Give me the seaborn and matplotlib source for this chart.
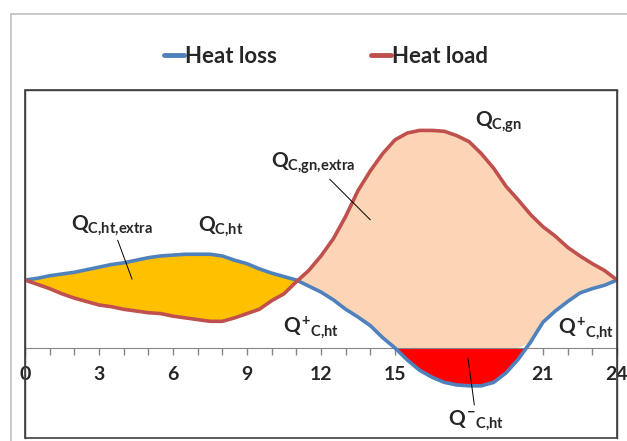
import numpy as np
import pandas as pd
import seaborn as sns
import matplotlib.pyplot as plt
from matplotlib.patches import Rectangle
from matplotlib.ticker import MultipleLocator

hours = [0, 0.5, 1, 1.5, 2, 2.5, 3, 3.5, 4, 4.5, 5, 5.5, 6, 6.5, 7, 7.5, 8, 8.5, 9, 9.5,
         10, 10.5, 11, 11.5, 12, 12.5, 13, 13.5, 14, 14.5, 15, 15.5, 16, 16.5, 17, 17.5,
         18, 18.5, 19, 19.5, 20, 20.5, 21, 21.5, 22, 22.5, 23, 23.5, 24]
heat_loss = [0.79, 0.81, 0.84, 0.86, 0.88, 0.91, 0.94, 0.97, 0.99, 1.02, 1.05, 1.07,
             1.08, 1.09, 1.09, 1.09, 1.07, 1.02, 0.98, 0.92, 0.87, 0.83, 0.79, 0.72,
             0.65, 0.56, 0.45, 0.36, 0.26, 0.12, 0.00, -0.14, -0.26, -0.34, -0.40, -0.43,
             -0.44, -0.44, -0.40, -0.29, -0.13, 0.07, 0.30, 0.43, 0.54, 0.64, 0.69, 0.73, 0.79]
heat_load = [0.79, 0.74, 0.69, 0.63, 0.58, 0.54, 0.50, 0.48, 0.45, 0.43, 0.41, 0.40,
             0.37, 0.35, 0.33, 0.31, 0.31, 0.35, 0.40, 0.45, 0.55, 0.63, 0.77, 0.90,
             1.07, 1.27, 1.53, 1.83, 2.06, 2.26, 2.42, 2.50, 2.53, 2.53, 2.52, 2.47,
             2.40, 2.26, 2.09, 1.88, 1.72, 1.55, 1.41, 1.30, 1.17, 1.07, 0.98, 0.90, 0.79]
xticks = [0, 3, 6, 9, 12, 15, 18, 21, 24]
tick_labels = ["0", "3", "6", "9", "12", "15", "", "21", "24"]

sns.set_style("white")
plt.rcParams['font.family'] = ['Lato', 'DejaVu Sans']
plt.rcParams['font.weight'] = 'bold'
plt.rcParams['mathtext.fontset'] = 'custom'
plt.rcParams['mathtext.rm'] = 'Lato:bold'
plt.rcParams['mathtext.it'] = 'Lato:bold'
plt.rcParams['mathtext.bf'] = 'Lato:bold'

df = pd.DataFrame({"hour": hours, "loss": heat_loss, "load": heat_load})
x = df["hour"].to_numpy()
loss = df["loss"].to_numpy()
load = df["load"].to_numpy()

fig = plt.figure(figsize=(6.27, 4.41), dpi=100)
ax = fig.add_axes([25 / 627, 3 / 441, 592 / 627, 348 / 441])

# filled regions
ax.fill_between(x, load, loss, where=loss >= load, interpolate=True, color="#FFC000", lw=0, zorder=1)
ax.fill_between(x, load, np.maximum(loss, 0), where=load >= loss, interpolate=True,
                color="#FBD5B5", lw=0, zorder=1)
ax.fill_between(x, loss, 0, where=loss <= 0, interpolate=True, color="#FF0000", lw=0, zorder=1)

sns.lineplot(data=df, x="hour", y="loss", color="#4F81BD", lw=2.6, ax=ax, label="Heat loss", zorder=3)
sns.lineplot(data=df, x="hour", y="load", color="#C0504D", lw=2.6, ax=ax, label="Heat load", zorder=3)

ax.set_xlim(0, 24)
ax.set_ylim(-1.047, 3.0)
ax.set_xlabel("")
ax.set_ylabel("")
ax.set_yticks([])
ax.xaxis.set_minor_locator(MultipleLocator(1))
ax.tick_params(axis="x", which="both", direction="out", length=5, width=1, color="#868686",
               pad=8, bottom=True, labelsize=14)
ax.set_xticks(xticks)
ax.set_xticklabels(tick_labels, fontsize=14, fontweight="bold")

ax.spines["bottom"].set_position(("data", 0))
ax.spines["bottom"].set_color("#868686")
ax.spines["bottom"].set_zorder(2)
for s in ["left", "right", "top"]:
    ax.spines[s].set_color("#404040")
    ax.spines[s].set_linewidth(1)
ax.add_patch(Rectangle((0, 0), 1, 1, transform=ax.transAxes, fill=False,
                       ec="#404040", lw=1.2, zorder=5, clip_on=False))

# legend
h, l = ax.get_legend_handles_labels()
ax.get_legend().remove()
leg = fig.legend(h, l, loc="center", bbox_to_anchor=(0.52, 0.872), ncol=2, frameon=False,
                 fontsize=16, handlelength=0.9, handletextpad=0.05, columnspacing=4.2)
for ln in leg.get_lines():
    ln.set_linewidth(3.5)

# labels
kw = dict(ha="center", va="center", fontsize=15, zorder=6)
line = dict(arrowstyle="-", color="black", lw=0.7, shrinkA=0, shrinkB=0)
ax.annotate(r"$Q_{C{,}ht{,}extra}$", xy=(4.34, 0.80), xytext=(3.53, 1.43),
            arrowprops=line, **kw)
ax.text(7.95, 1.42, r"$Q_{C{,}ht}$", **kw)
ax.annotate(r"$Q_{C{,}gn{,}extra}$", xy=(14.0, 1.49), xytext=(11.7, 2.15),
            arrowprops=line, **kw)
ax.text(19.2, 2.62, r"$Q_{C{,}gn}$", **kw)
ax.text(11.6, 0.24, r"$Q^{+}{}_{C{,}ht}$", **kw)
ax.text(22.75, 0.23, r"$Q^{+}{}_{C{,}ht}$", **kw)
ax.annotate(r"$Q^{-}{}_{C{,}ht}$", xy=(17.96, -0.12), xytext=(18.3, -0.84),
            arrowprops=line, **kw)

# outer chart border
fig.patches.append(Rectangle((11 / 627, -0.1), 1.2, 1 - 14 / 441 + 0.1, transform=fig.transFigure,
                             fill=False, ec="#BFBFBF", lw=1.2))

fig.savefig("out.png", dpi=100)
